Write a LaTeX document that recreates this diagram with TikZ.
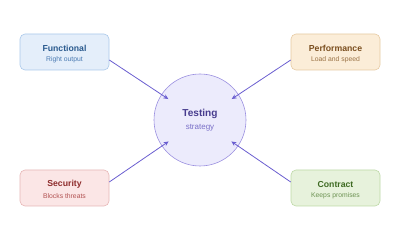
\documentclass[tikz,border=0pt]{standalone}
\usepackage{fontspec}
\setmainfont{Liberation Sans}
\usetikzlibrary{arrows.meta,calc}
\definecolor{arrc}{HTML}{6A5ED0}
\definecolor{cfill}{HTML}{ECEBFC}
\definecolor{cdraw}{HTML}{9B90E0}
\definecolor{ctitle}{HTML}{473C8E}
\definecolor{csub}{HTML}{7A70C8}
\definecolor{ffill}{HTML}{E4EEFA}
\definecolor{fdraw}{HTML}{AAC8EA}
\definecolor{ftitle}{HTML}{2A5A8E}
\definecolor{fsub}{HTML}{4A7AB2}
\definecolor{pfill}{HTML}{FBEDD8}
\definecolor{pdraw}{HTML}{E6CAA2}
\definecolor{ptitle}{HTML}{7A4E1E}
\definecolor{psub}{HTML}{9A7244}
\definecolor{sfill}{HTML}{FBE6E6}
\definecolor{sdraw}{HTML}{E6B6B6}
\definecolor{stitle}{HTML}{8E2C2C}
\definecolor{ssub}{HTML}{B25252}
\definecolor{kfill}{HTML}{E7F2DC}
\definecolor{kdraw}{HTML}{BDD9A6}
\definecolor{ktitle}{HTML}{3E6A22}
\definecolor{ksub}{HTML}{6C9252}
\tikzset{
  card/.style={draw=#1draw, fill=#1fill, rounded corners=5pt, line width=0.6pt,
    minimum width=89pt, minimum height=36pt, inner sep=0pt},
  ttl/.style={font=\bfseries\fontsize{8.7}{10}\selectfont, inner sep=0pt},
  sub/.style={font=\fontsize{6.8}{8}\selectfont, inner sep=0pt},
  arr/.style={draw=arrc, line width=0.8pt, -{Stealth[length=5pt,width=4.5pt]}, shorten >=38pt},
}
\begin{document}
\begin{tikzpicture}[x=1pt,y=-1pt]
\useasboundingbox (0,0) rectangle (400,240);
\node[circle, draw=cdraw, fill=cfill, line width=0.6pt, minimum size=92pt, inner sep=0pt] (test) at (200,120) {};
\node[ttl, text=ctitle, font=\bfseries\fontsize{10.1}{12}\selectfont] (testt) at (200,114) {Testing};
\node[sub, text=csub, font=\fontsize{8}{10}\selectfont] (tests) at (200,127.5) {strategy};

\node[card=f] (func) at (64.5,52) {};
\node[ttl, text=ftitle] (funct) at (64.5,48.5) {Functional};
\node[sub, text=fsub] (funcs) at (64.5,60) {Right output};

\node[card=p] (perf) at (335.5,52) {};
\node[ttl, text=ptitle] (perft) at (335.5,48.5) {Performance};
\node[sub, text=psub] (perfs) at (335.5,60) {Load and speed};

\node[card=s] (sec) at (64.5,188) {};
\node[ttl, text=stitle] (sect) at (64.5,184.5) {Security};
\node[sub, text=ssub] (secs) at (64.5,196) {Blocks threats};

\node[card=k] (con) at (335.5,188) {};
\node[ttl, text=ktitle] (cont) at (335.5,184.5) {Contract};
\node[sub, text=ksub] (cons) at (335.5,196) {Keeps promises};

\draw[arr] ($(func.east)+(0,8)$) -- (test.center);
\draw[arr] ($(perf.west)+(0,8)$) -- (test.center);
\draw[arr] ($(sec.east)+(0,-6)$) -- (test.center);
\draw[arr] ($(con.west)+(0,-6)$) -- (test.center);
\end{tikzpicture}
\end{document}
